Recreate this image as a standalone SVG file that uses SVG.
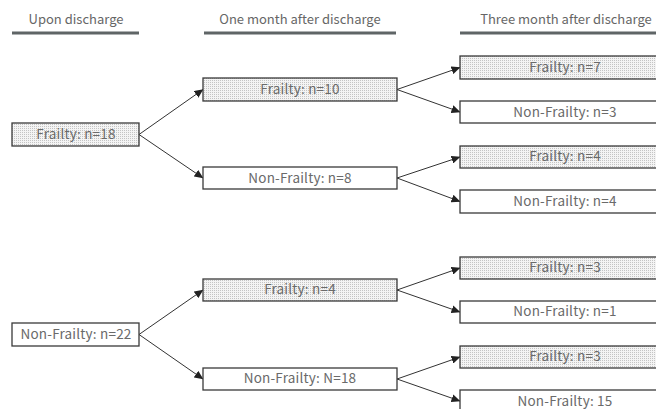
<svg xmlns="http://www.w3.org/2000/svg" width="656" height="409" viewBox="0 0 656 409">
<style>
.hdr{font-family:"Noto Sans CJK JP","Noto Sans",sans-serif;font-size:13px;fill:#666;text-anchor:middle}
.lbl{font-family:"Noto Sans CJK JP","Noto Sans",sans-serif;font-size:13.5px;fill:#6a6a6a;text-anchor:middle;letter-spacing:0.2px}
.rule{stroke:#5f6566;stroke-width:3}
.box{stroke:#3a3a3a;stroke-width:1.3}
.fr{fill:url(#dots)}
.nf{fill:#fff}
.conn line{stroke:#333;stroke-width:1;marker-end:url(#arr)}
</style>
<defs>
<pattern id="dots" width="2" height="2" patternUnits="userSpaceOnUse">
<rect width="2" height="2" fill="#f4f4f4"/>
<rect width="1" height="1" fill="#c4c4c4"/>
</pattern>
<marker id="arr" markerWidth="9" markerHeight="8" refX="8.5" refY="4" orient="auto" markerUnits="userSpaceOnUse">
<path d="M0,0 L9,4 L0,8 Z" fill="#222"/>
</marker>
</defs>
<g id="headers">
<text class="hdr" x="76" y="24">Upon discharge</text>
<line class="rule" x1="12" y1="33" x2="139" y2="33"/>
<text class="hdr" x="300" y="24">One month after discharge</text>
<line class="rule" x1="204" y1="33" x2="396" y2="33"/>
<text class="hdr" x="566" y="24">Three month after discharge</text>
<line class="rule" x1="460" y1="33" x2="656" y2="33"/>
</g>
<g class="conn" id="connectors">
<line x1="139" y1="134.5" x2="203" y2="89.5"/>
<line x1="139" y1="134.5" x2="203" y2="178"/>
<line x1="397" y1="89.5" x2="460" y2="67.5"/>
<line x1="397" y1="89.5" x2="460" y2="112"/>
<line x1="397" y1="178" x2="460" y2="157"/>
<line x1="397" y1="178" x2="460" y2="201.5"/>
<line x1="139" y1="334.5" x2="203" y2="290"/>
<line x1="139" y1="334.5" x2="203" y2="379"/>
<line x1="397" y1="290" x2="460" y2="268"/>
<line x1="397" y1="290" x2="460" y2="312"/>
<line x1="397" y1="379" x2="460" y2="357"/>
<line x1="397" y1="379" x2="460" y2="401"/>
</g>
<g id="n18"><rect class="box fr" x="12" y="123" width="127" height="23"/><text class="lbl" x="76" y="139">Frailty: n=18</text></g>
<g id="n10"><rect class="box fr" x="203" y="78" width="194" height="23"/><text class="lbl" x="300" y="94">Frailty: n=10</text></g>
<g id="n8"><rect class="box nf" x="203" y="167" width="194" height="22"/><text class="lbl" x="300" y="183">Non-Frailty: n=8</text></g>
<g id="n7"><rect class="box fr" x="460" y="56" width="212" height="23"/><text class="lbl" x="565" y="72">Frailty: n=7</text></g>
<g id="n3a"><rect class="box nf" x="460" y="101" width="212" height="22"/><text class="lbl" x="565" y="117">Non-Frailty: n=3</text></g>
<g id="n4a"><rect class="box fr" x="460" y="146" width="212" height="22"/><text class="lbl" x="565" y="161">Frailty: n=4</text></g>
<g id="n4b"><rect class="box nf" x="460" y="190" width="212" height="23"/><text class="lbl" x="565" y="206">Non-Frailty: n=4</text></g>
<g id="n22"><rect class="box nf" x="12" y="323" width="127" height="23"/><text class="lbl" x="76" y="339">Non-Frailty: n=22</text></g>
<g id="n4c"><rect class="box fr" x="203" y="279" width="194" height="22"/><text class="lbl" x="300" y="294">Frailty: n=4</text></g>
<g id="n18b"><rect class="box nf" x="203" y="368" width="194" height="22"/><text class="lbl" x="300" y="383">Non-Frailty: N=18</text></g>
<g id="n3b"><rect class="box fr" x="460" y="257" width="212" height="22"/><text class="lbl" x="565" y="272">Frailty: n=3</text></g>
<g id="n1"><rect class="box nf" x="460" y="301" width="212" height="22"/><text class="lbl" x="565" y="316">Non-Frailty: n=1</text></g>
<g id="n3c"><rect class="box fr" x="460" y="346" width="212" height="22"/><text class="lbl" x="565" y="361">Frailty: n=3</text></g>
<g id="n15"><rect class="box nf" x="460" y="390" width="212" height="23"/><text class="lbl" x="565" y="406">Non-Frailty: 15</text></g>
</svg>
